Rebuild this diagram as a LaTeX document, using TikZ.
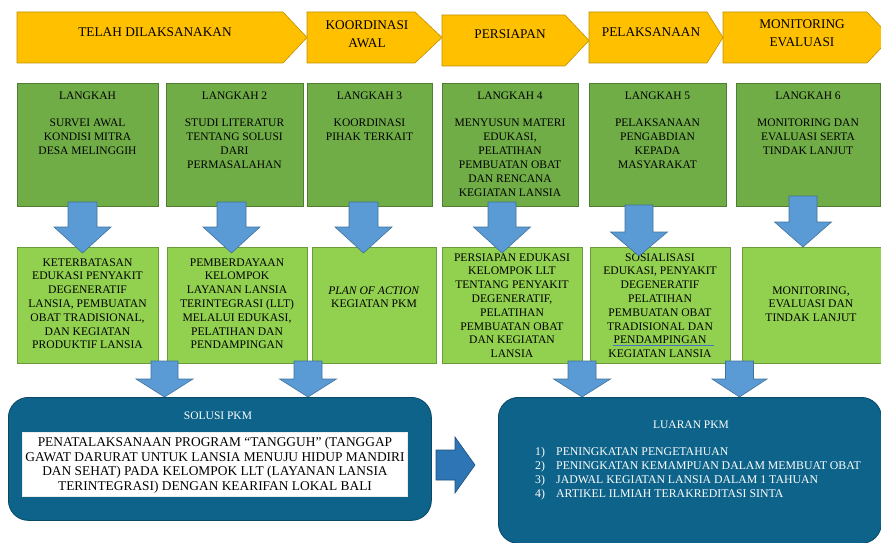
\documentclass[tikz,border=0pt]{standalone}
\usepackage{fontspec}
\setmainfont{Liberation Serif}
\definecolor{chevY}{HTML}{FFC000}
\definecolor{chevB}{HTML}{BF9000}
\definecolor{stepG}{HTML}{70AD47}
\definecolor{stepB}{HTML}{507E32}
\definecolor{resG}{HTML}{92D050}
\definecolor{resB}{HTML}{6A9A3A}
\definecolor{arrB}{HTML}{5B9BD5}
\definecolor{arrD}{HTML}{41719C}
\definecolor{rarrB}{HTML}{2E75B6}
\definecolor{rarrD}{HTML}{1F4E79}
\definecolor{panelC}{HTML}{0D6389}
\definecolor{panelD}{HTML}{0A4866}
\definecolor{ulblue}{HTML}{4472C4}
\newcommand{\DArr}[6]{\draw[darr] ({#1-#2},#4) -- ({#1+#2},#4) -- ({#1+#2},#5) -- ({#1+#3},#5) -- (#1,#6) -- ({#1-#3},#5) -- ({#1-#2},#5) -- cycle;}
\begin{document}
\begin{tikzpicture}[x=1pt,y=-1pt,
  chev/.style={fill=chevY, draw=chevB, line width=0.6pt},
  chevtxt/.style={inner sep=0pt, align=center, font=\fontsize{13.3}{18}\selectfont},
  stepbox/.style={draw=stepB, fill=stepG, line width=0.6pt, inner sep=0pt, anchor=north west},
  resbox/.style={draw=resB, fill=resG, line width=0.6pt, inner sep=0pt, anchor=north west},
  txt/.style={inner sep=0pt, align=center, anchor=north, font=\fontsize{11.5}{14}\selectfont},
  rtxt/.style={inner sep=0pt, align=center, anchor=north, font=\fontsize{11.6}{13.8}\selectfont},
  darr/.style={fill=arrB, draw=arrD, line width=0.6pt},
  panel/.style={fill=panelC, draw=panelD, line width=0.8pt, rounded corners=20pt, inner sep=0pt, anchor=north west},
  wtxt/.style={inner sep=0pt, text=white, font=\fontsize{11.5}{14}\selectfont}
]
\useasboundingbox (0,0) rectangle (881,543);
\clip (0,0) rectangle (881,543);

% ---------- chevrons ----------
\draw[chev] (17,12) -- (283,12) -- (307,37.5) -- (283,63) -- (17,63) -- cycle;
\draw[chev] (307,12) -- (415,12) -- (442,37.5) -- (415,63) -- (307,63) -- cycle;
\draw[chev] (442,15) -- (565,15) -- (589,40.5) -- (565,66) -- (442,66) -- cycle;
\draw[chev] (589,12) -- (707,12) -- (723,37.5) -- (707,63) -- (589,63) -- cycle;
\draw[chev] (723,12) -- (867,12) -- (891,37.5) -- (867,63) -- (723,63) -- cycle;
\node[chevtxt] (c1) at (155,32) {TELAH DILAKSANAKAN};
\node[chevtxt] (c2) at (367,34) {KOORDINASI\\AWAL};
\node[chevtxt] (c3) at (510,34) {PERSIAPAN};
\node[chevtxt] (c4) at (651,32) {PELAKSANAAN};
\node[chevtxt] (c5) at (802,33.5) {MONITORING\\EVALUASI};

% ---------- step boxes ----------
\node[stepbox, minimum width=141pt, minimum height=123pt] (s1) at (17,83) {};
\node[stepbox, minimum width=137pt, minimum height=123pt] (s2) at (166,83) {};
\node[stepbox, minimum width=125pt, minimum height=123pt] (s3) at (307,83) {};
\node[stepbox, minimum width=136pt, minimum height=123pt] (s4) at (442,83) {};
\node[stepbox, minimum width=137pt, minimum height=123pt] (s5) at (589,83) {};
\node[stepbox, minimum width=144pt, minimum height=123pt] (s6) at (736,83) {};

\node[txt] (t1) at (87.5,91.2) {LANGKAH\\[13pt]SURVEI AWAL\\KONDISI MITRA\\DESA MELINGGIH};
\node[txt] (t2) at (234.5,91.2) {LANGKAH 2\\[13pt]STUDI LITERATUR\\TENTANG SOLUSI\\DARI\\PERMASALAHAN};
\node[txt] (t3) at (369.5,91.2) {LANGKAH 3\\[13pt]KOORDINASI\\PIHAK TERKAIT};
\node[txt] (t4) at (510,91.2) {LANGKAH 4\\[13pt]MENYUSUN MATERI\\EDUKASI,\\PELATIHAN\\PEMBUATAN OBAT\\DAN RENCANA\\KEGIATAN LANSIA};
\node[txt] (t5) at (657.5,91.2) {LANGKAH 5\\[13pt]PELAKSANAAN\\PENGABDIAN\\KEPADA\\MASYARAKAT};
\node[txt] (t6) at (808,91.2) {LANGKAH 6\\[13pt]MONITORING DAN\\EVALUASI SERTA\\TINDAK LANJUT};

% ---------- result boxes ----------
\node[resbox, minimum width=141pt, minimum height=116pt] (r1) at (17,247) {};
\node[resbox, minimum width=140pt, minimum height=116pt] (r2) at (167,247) {};
\node[resbox, minimum width=124pt, minimum height=116pt] (r3) at (312,247) {};
\node[resbox, minimum width=140pt, minimum height=116pt] (r4) at (442,247) {};
\node[resbox, minimum width=140pt, minimum height=116pt] (r5) at (590,247) {};
\node[resbox, minimum width=140pt, minimum height=116pt] (r6) at (742,247) {};

\node[rtxt] (u1) at (87.5,258.2) {KETERBATASAN\\EDUKASI PENYAKIT\\DEGENERATIF\\LANSIA, PEMBUATAN\\OBAT TRADISIONAL,\\DAN KEGIATAN\\PRODUKTIF LANSIA};
\node[rtxt] (u2) at (237,258.2) {PEMBERDAYAAN\\KELOMPOK\\LAYANAN LANSIA\\TERINTEGRASI (LLT)\\MELALUI EDUKASI,\\PELATIHAN DAN\\PENDAMPINGAN};
\node[rtxt] (u3) at (374,286.2) {\textit{PLAN OF ACTION}\\KEGIATAN PKM};
\node[rtxt] (u4) at (512,253.2) {PERSIAPAN EDUKASI\\KELOMPOK LLT\\TENTANG PENYAKIT\\DEGENERATIF,\\PELATIHAN\\PEMBUATAN OBAT\\DAN KEGIATAN\\LANSIA};
\node[rtxt] (u5) at (660,253.2) {SOSIALISASI\\EDUKASI, PENYAKIT\\DEGENERATIF\\PELATIHAN\\PEMBUATAN OBAT\\TRADISIONAL DAN\\PENDAMPINGAN\\KEGIATAN LANSIA};
\node[rtxt] (u6) at (811,286.2) {MONITORING,\\EVALUASI DAN\\TINDAK LANJUT};
\coordinate (ulA) at (613,345.5);
\coordinate (ulB) at (714,345.5);
\draw[ulblue, line width=1pt] (ulA) -- (ulB);

% ---------- upper block arrows ----------
\DArr{82.5}{14.5}{28.5}{202}{227}{253}
\DArr{231.5}{14.5}{28.5}{202}{227}{253}
\DArr{363.5}{14.5}{28.5}{202}{227}{253}
\DArr{502}{14}{28.5}{202}{227}{253}
\DArr{639}{14}{28.5}{205}{232}{256}
\DArr{803}{14}{28.5}{196}{222}{247}

% ---------- panels ----------
\node[panel, minimum width=423pt, minimum height=123pt] (sol) at (8,397) {};
\node[panel, minimum width=383pt, minimum height=146pt] (lua) at (498,397) {};
\node[wtxt] (solt) at (218,416) {SOLUSI PKM};
\node[draw=white!85!gray, fill=white, inner sep=0pt, anchor=north west, minimum width=385pt, minimum height=64pt] (solbox) at (22,432) {};
\node[inner sep=0pt, align=center, anchor=north, font=\fontsize{13.4}{14.4}\selectfont] (soltxt) at (215,437.4)
  {PENATALAKSANAAN PROGRAM “TANGGUH” (TANGGAP\\GAWAT DARURAT UNTUK LANSIA MENUJU HIDUP MANDIRI\\DAN SEHAT) PADA KELOMPOK LLT (LAYANAN LANSIA\\TERINTEGRASI) DENGAN KEARIFAN LOKAL BALI};
\node[wtxt] (luat) at (691,425) {LUARAN PKM};
\node[inner sep=0pt, align=left, anchor=north west, text=white, font=\fontsize{11.8}{14}\selectfont] (list) at (535,447.6)
  {\makebox[21pt][l]{1)}PENINGKATAN PENGETAHUAN\\
   \makebox[21pt][l]{2)}PENINGKATAN KEMAMPUAN DALAM MEMBUAT OBAT\\
   \makebox[21pt][l]{3)}JADWAL KEGIATAN LANSIA DALAM 1 TAHUAN\\
   \makebox[21pt][l]{4)}ARTIKEL ILMIAH TERAKREDITASI SINTA};

% ---------- right block arrow ----------
\draw[fill=rarrB, draw=rarrD, line width=0.6pt] (436,450) -- (455,450) -- (455,437) -- (475,465) -- (455,493) -- (455,480) -- (436,480) -- cycle;

% ---------- lower block arrows ----------
\DArr{164.5}{13.5}{28.5}{361}{379}{397}
\DArr{308}{14}{28.5}{361}{379}{397}
\DArr{582}{14}{28.5}{361}{379}{397}
\DArr{739.5}{14}{27.5}{361}{379}{397}
\end{tikzpicture}
\end{document}
